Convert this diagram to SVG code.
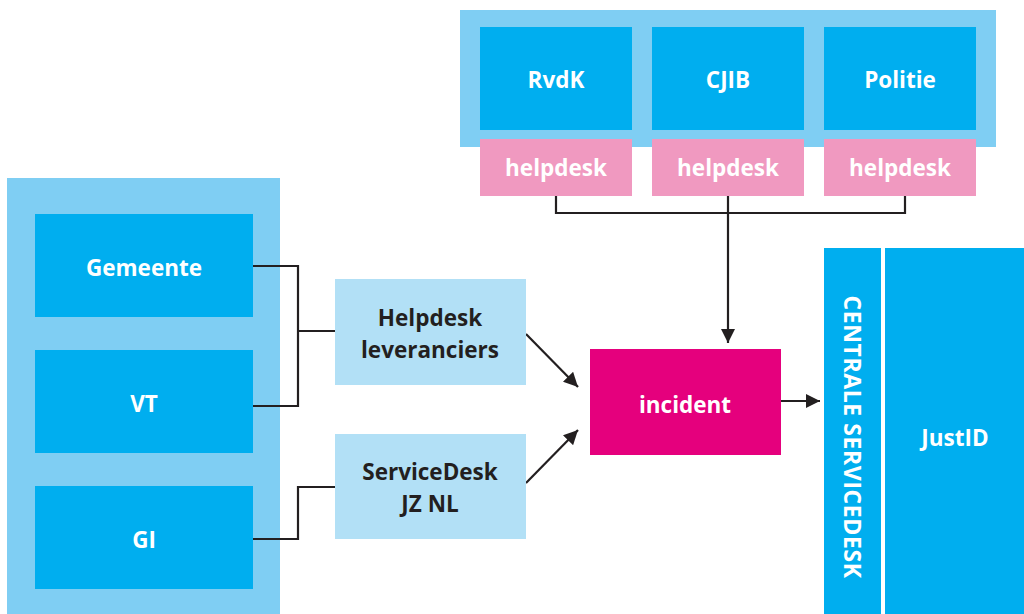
<svg xmlns="http://www.w3.org/2000/svg" width="1024" height="614" viewBox="0 0 1024 614">
<defs>
<style>
.cont{fill:#7fcef3}
.box{fill:#00aeef}
.hd{fill:#f099c0}
.lb{fill:#b2e0f6}
.inc{fill:#e5007d}
.t{font-family:"Open Sans","Noto Sans","Liberation Sans",sans-serif;font-weight:bold;font-size:22.5px;text-anchor:middle;fill:#ffffff}
.td{fill:#231f20}
.v{font-size:23px;letter-spacing:0.6px}
.ln{fill:none;stroke:#231f20;stroke-width:2.2}
</style>
<marker id="ah" viewBox="0 0 10 10" refX="10" refY="5" markerWidth="6.5" markerHeight="6.5" markerUnits="strokeWidth" orient="auto">
<path d="M0,0 L10,5 L0,10 z" fill="#231f20"/>
</marker>
</defs>
<rect class="cont" x="460" y="10" width="536" height="137"/>
<rect class="cont" x="7" y="178" width="273" height="436"/>
<g id="connectors">
<path class="ln" d="M556,196 V213 H905 V196 M728,196 V343" marker-end="url(#ah)"/>
<path class="ln" d="M253,266 H298 V406 H253 M298,331 H335"/>
<path class="ln" d="M253,539 H298 V487 H335"/>
<path class="ln" d="M526,334 L578,387" marker-end="url(#ah)"/>
<path class="ln" d="M526,483 L578,430" marker-end="url(#ah)"/>
<path class="ln" d="M781,401 H820" marker-end="url(#ah)"/>
</g>
<g id="rvdk"><rect class="box" x="480" y="27" width="152" height="103"/><text class="t" x="556" y="88">RvdK</text></g>
<g id="cjib"><rect class="box" x="652" y="27" width="152" height="103"/><text class="t" x="728" y="88">CJIB</text></g>
<g id="politie"><rect class="box" x="824" y="27" width="152" height="103"/><text class="t" x="900" y="88">Politie</text></g>
<g id="helpdesk1"><rect class="hd" x="480" y="139" width="152" height="57"/><text class="t" x="556" y="176">helpdesk</text></g>
<g id="helpdesk2"><rect class="hd" x="652" y="139" width="152" height="57"/><text class="t" x="728" y="176">helpdesk</text></g>
<g id="helpdesk3"><rect class="hd" x="824" y="139" width="152" height="57"/><text class="t" x="900" y="176">helpdesk</text></g>
<g id="gemeente"><rect class="box" x="35" y="214" width="218" height="103"/><text class="t" x="144" y="276">Gemeente</text></g>
<g id="vt"><rect class="box" x="35" y="350" width="218" height="103"/><text class="t" x="144" y="412">VT</text></g>
<g id="gi"><rect class="box" x="35" y="486" width="218" height="103"/><text class="t" x="144" y="548">GI</text></g>
<g id="helpdesk-leveranciers"><rect class="lb" x="335" y="279" width="191" height="106"/><text class="t td" x="430" y="326">Helpdesk</text><text class="t td" x="430" y="358">leveranciers</text></g>
<g id="servicedesk-jznl"><rect class="lb" x="335" y="434" width="191" height="105"/><text class="t td" x="430" y="480">ServiceDesk</text><text class="t td" x="430" y="512">JZ NL</text></g>
<g id="incident"><rect class="inc" x="590" y="349" width="191" height="106"/><text class="t" x="685" y="413">incident</text></g>
<g id="centrale-servicedesk"><rect class="box" x="824" y="248" width="57" height="366"/><text class="t v" transform="translate(844,437) rotate(90)" x="0" y="0">CENTRALE SERVICEDESK</text></g>
<g id="justid"><rect class="box" x="885" y="248" width="139" height="366"/><text class="t" x="955" y="446">JustID</text></g>
</svg>
